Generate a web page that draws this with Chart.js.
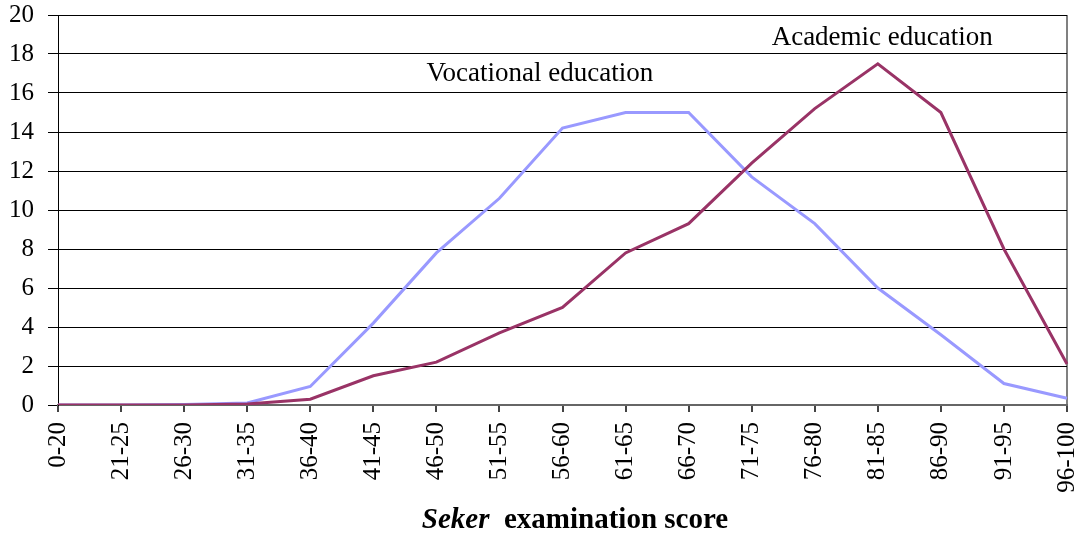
<!DOCTYPE html>
<html>
<head>
<meta charset="utf-8">
<script src="https://cdn.jsdelivr.net/npm/chart.js@4/dist/chart.umd.min.js"></script>
<style>
  html, body { margin: 0; padding: 0; background: #fff; }
  #wrap { width: 1077px; height: 537px; }
</style>
</head>
<body>
<div id="wrap"><canvas id="canvas"></canvas></div>
<script>
// score bands on the x axis
const scoreBands = ['0-20', '21-25', '26-30', '31-35', '36-40', '41-45', '46-50', '51-55', '56-60',
                    '61-65', '66-70', '71-75', '76-80', '81-85', '86-90', '91-95', '96-100']

// percentage of students in each band
const vocational = [0, 0, 0.02, 0.1, 0.95, 4.2, 7.8, 10.6, 14.2, 15.0, 15.0, 11.7, 9.3, 6.0, 3.6, 1.1, 0.35]
const academic   = [0, 0, 0, 0.05, 0.3, 1.5, 2.2, 3.7, 5.0, 7.8, 9.3, 12.4, 15.2, 17.5, 15.0, 8.0, 2.1]

const serif = "'Liberation Serif', 'Times New Roman', serif"

// series labels written inside the plot + the mixed style axis title
const textPlugin = {
    id: 'chartText',
    afterDraw(chart) {
        const {ctx, scales} = chart
        ctx.save()
        ctx.fillStyle = '#000'
        ctx.textBaseline = 'middle'
        ctx.textAlign = 'center'
        ctx.font = '27px ' + serif
        ctx.fillText('Vocational education', scales.x.getPixelForValue(7.64), scales.y.getPixelForValue(17.0))
        ctx.fillText('Academic education', scales.x.getPixelForValue(13.07), scales.y.getPixelForValue(18.8))

        // "Seker" italic bold, rest bold
        const part1 = 'Seker', part2 = '  examination score'
        ctx.font = 'italic bold 29px ' + serif
        const w1 = ctx.measureText(part1).width
        ctx.font = 'bold 29px ' + serif
        const w2 = ctx.measureText(part2).width
        const left = 575 - (w1 + w2) / 2
        ctx.textAlign = 'left'
        ctx.font = 'italic bold 29px ' + serif
        ctx.fillText(part1, left, 521)
        ctx.font = 'bold 29px ' + serif
        ctx.fillText(part2, left + w1, 521)
        ctx.restore()
    }
}

const ctx = document.getElementById('canvas')
new Chart(ctx, {
    type: 'line',
    data: {
        labels: scoreBands,
        datasets: [
            {
                label: 'Academic education',
                data: academic,
                borderColor: '#993366',
                borderWidth: 3,
                pointRadius: 0,
                tension: 0,
                order: 0
            },
            {
                label: 'Vocational education',
                data: vocational,
                borderColor: '#9999FF',
                borderWidth: 3,
                pointRadius: 0,
                tension: 0,
                order: 1
            }
        ]
    },
    options: {
        responsive: true,
        maintainAspectRatio: false,
        animation: false,
        layout: { padding: { top: 15, right: 10, left: 0, bottom: 0 } },
        plugins: {
            legend: { display: false },
            tooltip: { enabled: false }
        },
        scales: {
            x: {
                offset: false,
                afterFit: scale => {
                    scale.height = 132
                    scale.paddingLeft = 0
                    scale.paddingRight = 0
                },
                grid: {
                    drawOnChartArea: true,
                    color: c => c.index === scoreBands.length - 1 ? '#808080' : 'rgba(0,0,0,0)',
                    lineWidth: 2,
                    tickColor: '#444',
                    tickLength: 7
                },
                border: { display: true, color: '#666', width: 2 },
                ticks: {
                    autoSkip: false,
                    minRotation: 90,
                    maxRotation: 90,
                    padding: 10,
                    color: '#000',
                    font: { family: serif, size: 25 }
                }
            },
            y: {
                min: 0,
                max: 20,
                afterFit: scale => {
                    scale.width = 58
                    scale.paddingTop = 0
                    scale.paddingBottom = 0
                },
                grid: {
                    color: '#000',
                    lineWidth: 1,
                    tickColor: '#000',
                    tickLength: 10
                },
                border: { display: true, color: '#000', width: 1 },
                ticks: {
                    stepSize: 2,
                    padding: 14,
                    color: '#000',
                    font: { family: serif, size: 25 }
                }
            }
        }
    },
    plugins: [textPlugin]
})
</script>
</body>
</html>
